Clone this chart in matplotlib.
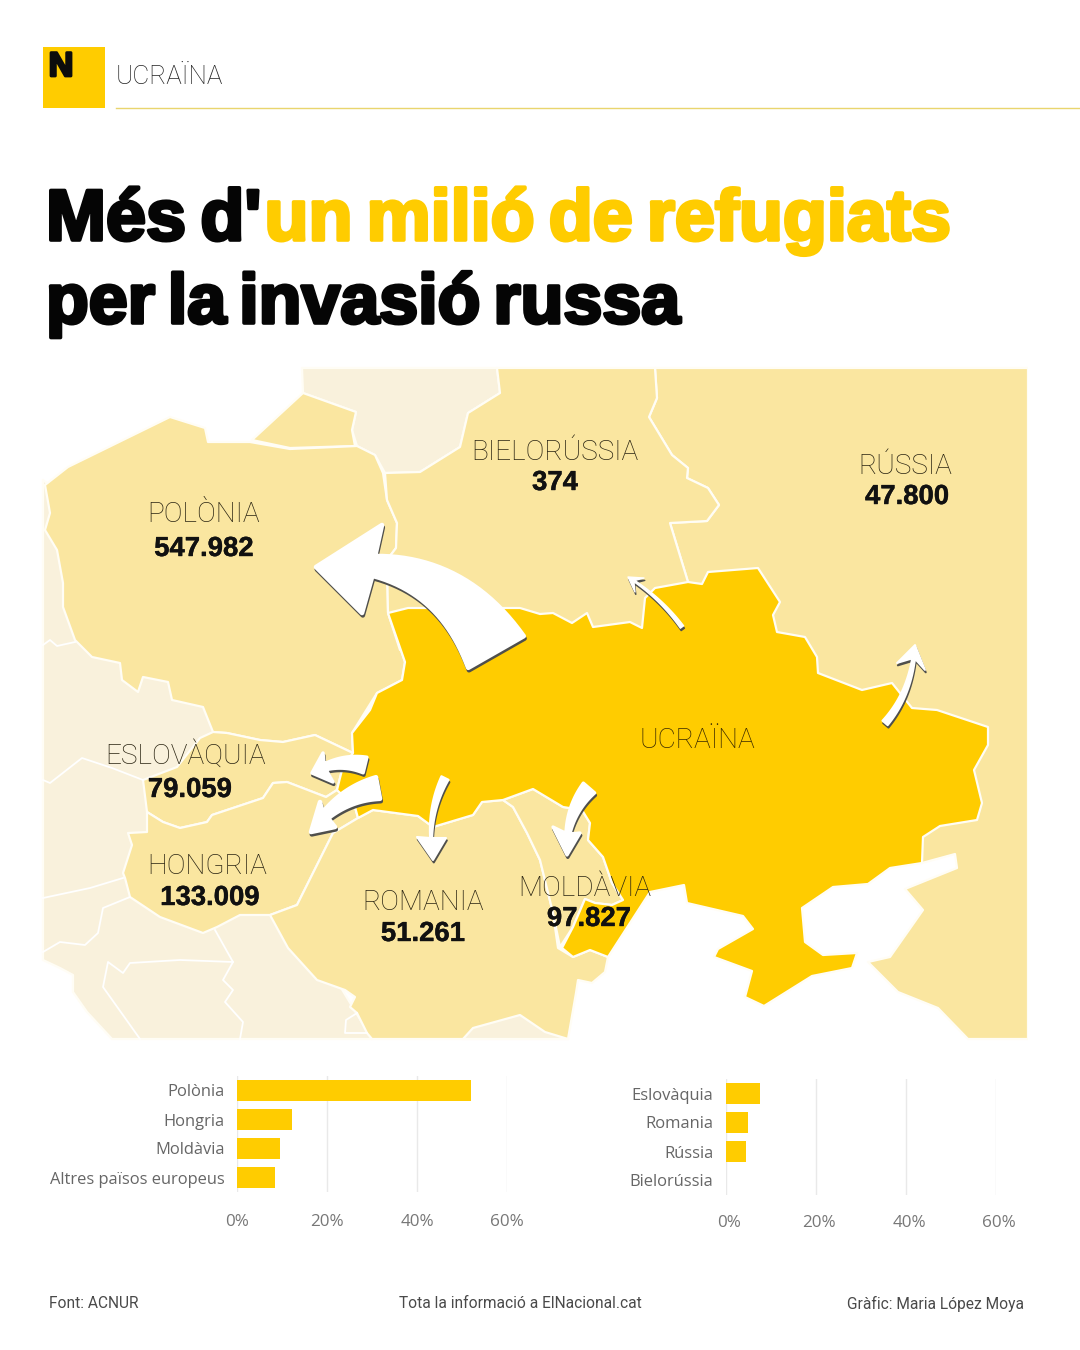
import numpy as np
import matplotlib
matplotlib.use('Agg')
import matplotlib.pyplot as plt
import matplotlib.patheffects as pe
from matplotlib.patches import Polygon, Rectangle
from matplotlib.transforms import ScaledTranslation

# colors
YELLOW = '#FFCC00'
LIGHT = '#FAE6A0'
PALE = '#F9F1DC'
INK = '#111111'

# bar data (% of refugees)
left_names = ['Polònia', 'Hongria', 'Moldàvia', 'Altres països europeus']
left_values = [52.0, 12.2, 9.6, 8.4]
right_names = ['Eslovàquia', 'Romania', 'Rússia', 'Bielorússia']
right_values = [7.5, 4.9, 4.5, 0.03]
tick_values = [0, 20, 40, 60]

# labels on the map
map_names = ['POLÒNIA', 'BIELORÚSSIA', 'RÚSSIA', 'ESLOVÀQUIA', 'HONGRIA', 'ROMANIA', 'MOLDÀVIA']
map_counts = ['547.982', '374', '47.800', '79.059', '133.009', '51.261', '97.827']
name_xy = [(204, 515), (555, 453), (905, 466), (186, 755), (207, 866), (423, 902), (585, 889)]
count_xy = [(204, 549), (555, 483), (907, 497), (190, 790), (210, 898), (423, 934), (589, 919)]

# title words, line by line
line1_words = ['Més', "d'", 'un', 'milió', 'de', 'refugiats']
line1_dark = [True, True, False, False, False, False]
line2_words = ['per', 'la', 'invasió', 'russa']

# map outlines, in pixels of the picture
underlay = [(43, 480), (200, 600), (400, 800), (358, 818), (300, 920), (372, 1039), (112, 1039), (87, 1012),
            (73, 992), (73, 975), (60, 968), (43, 960)]
lithuania = [(302, 368), (497, 368), (500, 393), (468, 413), (460, 447), (420, 472), (385, 473), (375, 455),
             (357, 446), (352, 430), (356, 412), (303, 393)]
bulgaria = [(463, 1039), (473, 1028), (520, 1015), (545, 1032), (568, 1039)]
kaliningrad = [(252, 440), (303, 393), (356, 412), (352, 430), (355, 446), (290, 448)]
poland = [(45, 485), (68, 467), (170, 417), (205, 428), (208, 442), (250, 442), (290, 449), (357, 446), (375, 455),
          (383, 473), (387, 500), (397, 523), (396, 548), (387, 560), (388, 612), (405, 662), (402, 680), (377, 693),
          (352, 733), (353, 753), (315, 735), (283, 742), (260, 740), (227, 733), (213, 732), (203, 707), (172, 700),
          (168, 682), (143, 677), (138, 692), (122, 680), (120, 663), (92, 657), (75, 640), (63, 607), (63, 583),
          (57, 550), (45, 530), (50, 513)]
belarus = [(497, 368), (655, 368), (657, 398), (649, 417), (672, 455), (688, 468), (687, 478), (708, 488), (719, 505),
           (707, 521), (670, 523), (688, 582), (660, 650), (400, 650), (388, 613), (387, 560), (396, 548),
           (397, 523), (387, 500), (385, 473), (420, 472), (460, 447), (468, 413), (500, 393)]
russia = [(655, 368), (1028, 368), (1028, 1039), (968, 1039), (938, 1008), (898, 992), (868, 962), (890, 957),
          (923, 910), (905, 889), (957, 868), (955, 854), (922, 863), (850, 750), (688, 582), (670, 523), (707, 521),
          (719, 505), (708, 488), (687, 478), (688, 468), (672, 455), (649, 417), (657, 398)]
slovakia = [(353, 753), (315, 735), (283, 742), (260, 740), (227, 733), (213, 732), (200, 738), (177, 767), (143, 780),
            (147, 812), (163, 822), (180, 828), (207, 822), (212, 815), (248, 803), (263, 798), (273, 783), (287, 782),
            (326, 797), (337, 790), (342, 770)]
hungary = [(147, 812), (163, 822), (180, 828), (207, 822), (212, 815), (248, 803), (263, 798), (273, 783), (287, 782),
           (326, 797), (337, 790), (355, 807), (358, 818), (333, 833), (297, 905), (270, 915), (240, 915), (217, 927),
           (203, 933), (160, 917), (130, 897), (125, 878), (123, 873), (132, 845), (128, 833), (147, 832)]
romania = [(358, 818), (373, 810), (418, 816), (433, 827), (473, 815), (482, 802), (503, 800), (513, 807), (527, 833),
           (540, 860), (553, 913), (558, 948), (573, 957), (590, 950), (608, 957), (605, 972), (592, 983), (578, 980),
           (576, 993), (568, 1039), (372, 1039), (367, 1033), (357, 1013), (350, 1007), (355, 997), (345, 990),
           (317, 980), (288, 948), (270, 915), (297, 905), (333, 833)]
moldova = [(503, 800), (533, 789), (563, 807), (582, 810), (590, 823), (588, 840), (603, 857), (612, 883), (623, 900),
           (612, 905), (595, 903), (585, 899), (573, 927), (560, 947), (553, 913), (540, 860), (527, 833), (513, 807)]
ukraine = [(388, 613), (408, 608), (520, 608), (540, 614), (553, 613), (572, 623), (587, 613), (593, 627), (630, 622),
           (642, 628), (645, 598), (655, 588), (688, 582), (702, 584), (708, 572), (758, 568), (780, 602), (773, 615),
           (777, 632), (805, 637), (817, 657), (818, 673), (862, 690), (892, 683), (912, 708), (937, 710), (988, 727),
           (988, 745), (974, 770), (982, 803), (977, 820), (940, 826), (923, 837), (922, 863), (890, 868), (868, 884),
           (833, 887), (802, 908), (805, 942), (823, 955), (857, 953), (852, 968), (812, 976), (764, 1006), (745, 997),
           (752, 971), (714, 957), (718, 949), (753, 929), (743, 916), (687, 903), (684, 885), (650, 892), (608, 957),
           (590, 950), (573, 957), (562, 948), (573, 927), (585, 899), (595, 903), (612, 905), (623, 900), (612, 883),
           (603, 857), (588, 840), (590, 823), (582, 810), (563, 807), (533, 789), (503, 800), (482, 802), (473, 815),
           (433, 827), (418, 816), (373, 810), (358, 818), (355, 807), (337, 790), (342, 770), (353, 753), (352, 733),
           (370, 710), (377, 693), (402, 680), (405, 662)]
# inner borders of the countries around
inner_borders = [
    [(43, 645), (50, 640), (57, 646), (75, 642)],
    [(43, 780), (50, 783), (82, 758), (112, 768), (143, 780)],
    [(43, 898), (90, 888), (123, 878)],
    [(43, 952), (60, 942), (85, 945), (98, 933), (103, 908), (130, 897)],
    [(215, 930), (233, 962), (223, 980), (233, 990), (225, 1002), (243, 1022), (240, 1039)],
    [(233, 962), (180, 960), (130, 963), (123, 973), (108, 962), (103, 987), (140, 1039)],
    [(357, 1013), (346, 1020), (345, 1033), (367, 1033)],
]
# arrows: spine p0-p1-tip, shaft widths, the two barbs, where the shaft stops
arrows = [
    ((496, 652), (440, 550), (316, 567), 64, 20, (382, 525), (362, 613), 0.75),
    ((682, 627), (660, 597), (628, 577), 4, 1.5, (644, 578), (635, 592), 0.9),
    ((885, 723), (912, 692), (915, 645), 7, 3, (897, 663), (925, 670), 0.85),
    ((365, 765), (338, 758), (312, 773), 16, 6, (323, 753), (333, 782), 0.75),
    ((378, 788), (338, 795), (311, 832), 22, 8, (320, 802), (335, 827), 0.75),
    ((445, 778), (426, 815), (433, 860), 8, 2, (417, 837), (446, 838), 0.75),
    ((589, 788), (565, 815), (567, 855), 15, 4, (553, 827), (580, 833), 0.72),
]

plt.rcParams['font.family'] = ['Roboto', 'DejaVu Sans']

fig = plt.figure(figsize=(10.8, 13.5), dpi=100, facecolor='white')
ax = fig.add_axes([0, 0, 1, 1])
ax.set_xlim(0, 1080)
ax.set_ylim(1350, 0)
ax.axis('off')
renderer = fig.canvas.get_renderer()


def px(n):
    return n * 0.72


def arrow_outline(p0, p1, tip, w0, w1, barb_a, barb_b, neck):
    p0, p1, tip = np.array(p0, float), np.array(p1, float), np.array(tip, float)
    ts = np.linspace(0, neck, 24)[:, None]
    spine = (1 - ts) ** 2 * p0 + 2 * ts * (1 - ts) * p1 + ts ** 2 * tip
    d = np.gradient(spine, axis=0)
    n = np.c_[-d[:, 1], d[:, 0]] / np.hypot(d[:, 0], d[:, 1])[:, None]
    w = (w0 + (w1 - w0) * ts / neck) / 2
    a = spine + n * w
    b = spine - n * w
    # keep each barb on the side of the shaft it belongs to
    if np.dot(n[-1], np.array(barb_a) - spine[-1]) < 0:
        barb_a, barb_b = barb_b, barb_a
    return np.vstack([a, [barb_a], [tip], [barb_b], b[::-1]])


def title_line(y, x0, x1, words, colors, size, glued=None):
    # words are set one by one so the line gets the tight spacing of the original
    opts = dict(ha='left', va='baseline', family=['Liberation Sans', 'DejaVu Sans'], weight='bold', fontsize=px(size))
    items = [ax.text(x0, y, w, color=c, path_effects=[pe.withStroke(linewidth=2.6, foreground=c)], **opts)
             for w, c in zip(words, colors)]
    widths = [t.get_window_extent(renderer).width for t in items]
    n_gaps = len(words) - 1 - (0 if glued is None else 1)
    gap = (x1 - x0 - sum(widths)) / n_gaps
    x = x0
    for i, t in enumerate(items):
        t.set_x(x)
        x += widths[i] + (3 if i == glued else gap)


for shape, color in [(underlay, PALE), (lithuania, PALE), (kaliningrad, LIGHT), (poland, LIGHT),
                     (russia, LIGHT), (belarus, LIGHT), (slovakia, LIGHT), (hungary, LIGHT), (romania, LIGHT),
                     (bulgaria, PALE), (moldova, LIGHT), (ukraine, YELLOW)]:
    ax.add_patch(Polygon(shape, closed=True, fc=color, ec='#FFFDF5', lw=1.6, joinstyle='round', zorder=2))
for line in inner_borders:
    xs, ys = zip(*line)
    ax.plot(xs, ys, color='white', lw=1.3, zorder=2.5)
# cover the outer edge strokes on the map frame
ax.add_patch(Rectangle((1028, 360), 10, 690, fc='white', ec='none', zorder=3))

for a in arrows:
    outline = arrow_outline(*a)
    round_lw = min(a[3] / 8, 2.8) + 0.5
    ax.add_patch(Polygon(outline + np.array([0.8, 2.4]), closed=True, fc='#4F4F4C', ec='#4F4F4C', lw=round_lw,
                         joinstyle='round', zorder=4))
    ax.add_patch(Polygon(outline, closed=True, fc='white', ec='white', lw=round_lw, joinstyle='round', zorder=5))

# header
ax.add_patch(Rectangle((43, 47), 62, 61, fc=YELLOW, ec='none'))
ax.plot([116, 1080], [108, 108], color='#E9D56E', lw=1)
ax.text(61, 76, 'N', ha='center', va='baseline', family=['Liberation Sans', 'DejaVu Sans'], weight='bold',
        fontsize=px(34), color='#0C0C0C', path_effects=[pe.withStroke(linewidth=2, foreground='#0C0C0C')])
ax.text(116, 84, 'UCRAÏNA', ha='left', va='baseline', fontsize=px(26), weight='light', color='#222222')

# title
title_line(240, 46, 948, line1_words, ['#050505' if d else YELLOW for d in line1_dark], 72, glued=1)
title_line(323, 46, 680, line2_words, ['#050505'] * len(line2_words), 70)

# map labels
for s, (x, y) in zip(map_names, name_xy):
    ax.text(x, y, s, ha='center', va='center', fontsize=px(28), weight='light', color='#2A2412', zorder=6)
for s, (x, y) in zip(map_counts, count_xy):
    ax.text(x, y, s, ha='center', va='center', family=['Liberation Sans', 'DejaVu Sans'], weight='bold',
            fontsize=px(27.5), color=INK, zorder=6, path_effects=[pe.withStroke(linewidth=0.3, foreground=INK)])
ax.text(697, 741, 'UCRAÏNA', ha='center', va='center', fontsize=px(28), weight='light', color='#3A2A00', zorder=6)


def bar_panel(x0, top, names, values, nudge, tick_pad):
    W, H = 1080, 1350
    a = fig.add_axes([x0 / W, 1 - (top + 116) / H, 270 / W, 116 / H])
    a.patch.set_alpha(0)
    a.barh(range(len(names)), values, height=0.69, color=YELLOW, zorder=3)
    a.set_xlim(0, 60)
    a.set_ylim(len(names) - 0.5, -0.5)
    a.set_yticks(range(len(names)), names)
    a.set_xticks(tick_values, [f'{v}%' for v in tick_values])
    a.grid(axis='x', color='#E9E9E9', lw=1)
    a.set_axisbelow(True)
    a.tick_params(axis='y', length=0, pad=px(12.5), labelsize=px(16.5), labelcolor='#666666')
    a.tick_params(axis='x', length=0, pad=px(tick_pad), labelsize=px(17), labelcolor='#777777')
    for lab in a.get_yticklabels() + a.get_xticklabels():
        lab.set_fontfamily(['Open Sans', 'DejaVu Sans'])
    for lab in a.get_xticklabels():
        lab.set_transform(lab.get_transform() + ScaledTranslation(nudge / 100, 0, fig.dpi_scale_trans))
    for sp in a.spines.values():
        sp.set_visible(False)
    return a


bar_panel(237, 1076, left_names, left_values, 0, 22)
bar_panel(726, 1079, right_names, right_values, 3, 20)

# footer
foot = dict(va='center', fontsize=px(15.5), color='#4A4A4A')
ax.text(49, 1304, 'Font: ACNUR', ha='left', **foot)
ax.text(520, 1304, 'Tota la informació a ElNacional.cat', ha='center', **foot)
ax.text(1024, 1304, 'Gràfic: Maria López Moya', ha='right', **foot)

fig.savefig('out.png', dpi=100)
